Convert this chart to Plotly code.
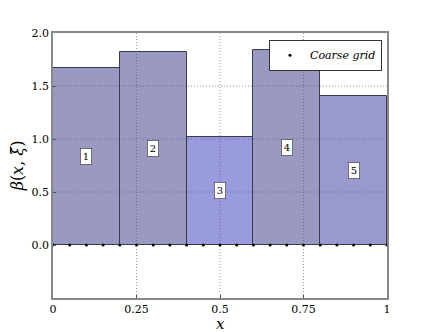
import plotly.graph_objects as go

edges = [0.0, 0.2, 0.4, 0.6, 0.8, 1.0]
beta_values = [1.67, 1.82, 1.02, 1.84, 1.41]
bar_labels = ["1", "2", "3", "4", "5"]
bar_colors = ["#9999c2", "#9999c2", "#9a9adf", "#9999c2", "#9999d0"]
grid_x = [i / 20 for i in range(21)]
grid_y = [0.0] * 21
x_ticks = [0, 0.25, 0.5, 0.75, 1]
x_tick_text = ["0", "0.25", "0.5", "0.75", "1"]
y_ticks = [0.0, 0.5, 1.0, 1.5, 2.0]
y_tick_text = ["0.0", "0.5", "1.0", "1.5", "2.0"]

centers = [(a + b) / 2 for a, b in zip(edges[:-1], edges[1:])]
widths = [b - a for a, b in zip(edges[:-1], edges[1:])]

font = "DejaVu Serif"
fig = go.Figure()
fig.add_trace(go.Bar(
    x=centers, y=beta_values, width=widths,
    marker=dict(color=bar_colors, line=dict(color="#3a3a4a", width=1)),
    showlegend=False, hoverinfo="skip",
))
fig.add_trace(go.Scatter(
    x=grid_x, y=grid_y, mode="markers",
    marker=dict(color="black", size=3),
    name="<i>Coarse grid</i>",
))
for c, v, lab in zip(centers, beta_values, bar_labels):
    fig.add_annotation(x=c, y=v / 2, text=lab, showarrow=False,
                       bgcolor="white", bordercolor="#555", borderwidth=0.8,
                       borderpad=2, font=dict(family=font, size=10, color="black"))

# x-axis title as annotation (keeps clear of the tick labels)
fig.add_annotation(x=0.5, y=-0.058, xref="paper", yref="paper", text="<i>x</i>",
                   showarrow=False, yanchor="top", font=dict(family=font, size=15))

# dotted grid drawn above the bars
grid_line = dict(color="rgba(70,70,90,0.55)", width=1, dash="1px,2px")
for xv in x_ticks[1:-1]:
    fig.add_shape(type="line", xref="x", yref="paper", x0=xv, x1=xv, y0=0, y1=1,
                  line=grid_line, layer="above")
for yv in y_ticks[1:-1]:
    fig.add_shape(type="line", xref="paper", yref="y", x0=0, x1=1, y0=yv, y1=yv,
                  line=grid_line, layer="above")

fig.update_layout(
    width=422, height=324,
    margin=dict(l=45, r=43, t=25, b=34),
    paper_bgcolor="white", plot_bgcolor="white",
    font=dict(family=font, size=11, color="black"),
    bargap=0,
    legend=dict(x=0.985, y=0.975, xanchor="right", yanchor="top",
                bgcolor="white", bordercolor="#333", borderwidth=1,
                font=dict(family=font, size=11), itemwidth=30,
                tracegroupgap=0),
    xaxis=dict(range=[0, 1], tickvals=x_ticks, ticktext=x_tick_text,
               showgrid=False, automargin=False,
               showline=True, linecolor="#888", linewidth=1.5, mirror=True,
               ticks="inside", ticklen=3, tickcolor="#555", zeroline=False),
    yaxis=dict(range=[-0.5, 2.0], tickvals=y_ticks, ticktext=y_tick_text,
               showgrid=False, automargin=False,
               showline=True, linecolor="#888", linewidth=1.5, mirror=True,
               ticks="inside", ticklen=3, tickcolor="#555", zeroline=False,
               title=dict(text="<i>β</i>(<i>x</i>, <i>ξ̃</i>)", font=dict(size=16), standoff=4)),
)
fig.write_html("out.html")
